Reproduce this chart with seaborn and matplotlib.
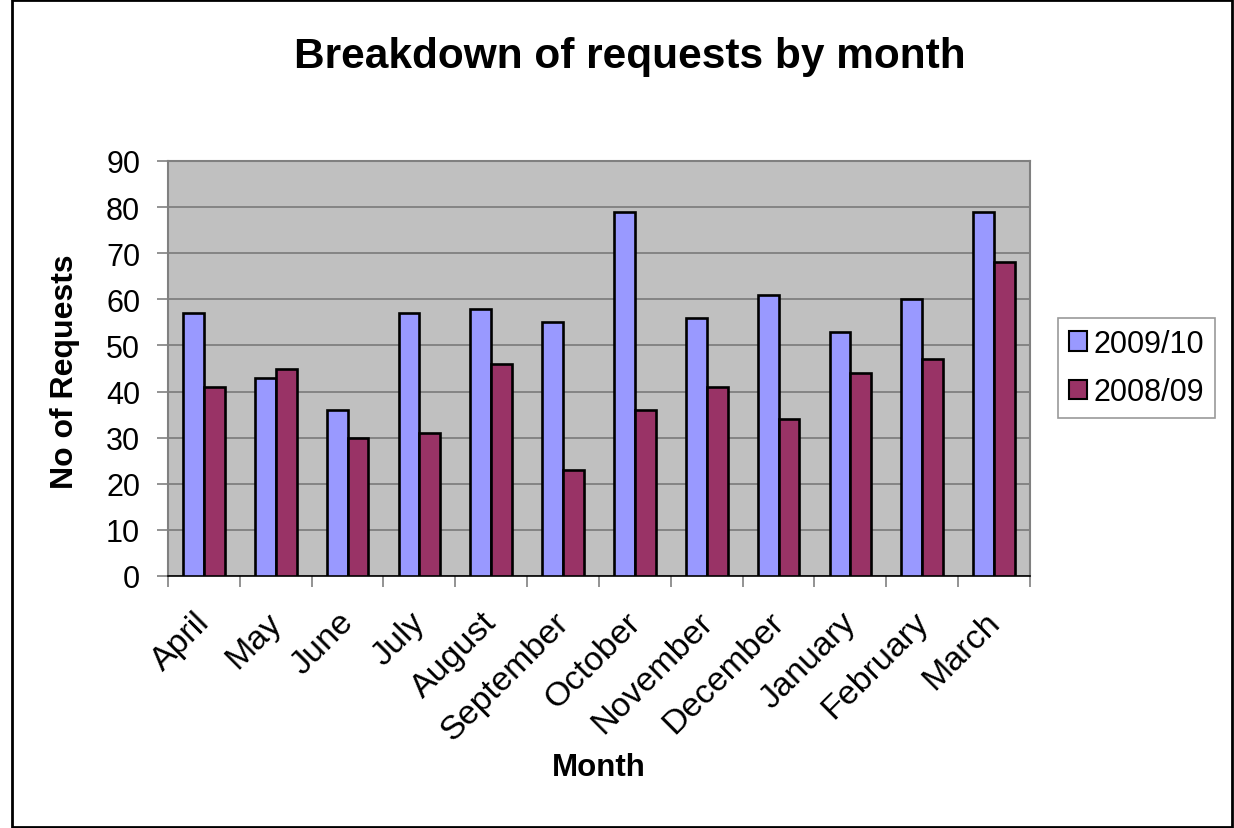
import matplotlib
matplotlib.use("Agg")
import matplotlib.pyplot as plt
from matplotlib.patches import Patch, Rectangle
from matplotlib.ticker import FixedLocator, NullFormatter
from matplotlib.transforms import ScaledTranslation
import seaborn as sns
import pandas as pd

months = ["April", "May", "June", "July", "August", "September", "October",
          "November", "December", "January", "February", "March"]
series_names = ["2009/10", "2008/09"]
requests_2009_10 = [57, 43, 36, 57, 58, 55, 79, 56, 61, 53, 60, 79]
requests_2008_09 = [41, 45, 30, 31, 46, 23, 36, 41, 34, 44, 47, 68]
y_ticks = [0, 10, 20, 30, 40, 50, 60, 70, 80, 90]

df = pd.DataFrame({
    "Month": months * 2,
    "Requests": requests_2009_10 + requests_2008_09,
    "Year": [series_names[0]] * len(months) + [series_names[1]] * len(months),
})

colors = {"2009/10": "#9999FF", "2008/09": "#993366"}

sns.set_theme(style="white")
plt.rcParams["font.family"] = ["Liberation Sans", "DejaVu Sans"]
plt.rcParams["text.color"] = "black"
plt.rcParams["axes.labelcolor"] = "black"
plt.rcParams["xtick.color"] = "black"
plt.rcParams["ytick.color"] = "black"

W, H = 1234, 829
fig = plt.figure(figsize=(W / 100, H / 100), dpi=100)
fig.patch.set_facecolor("white")

# outer chart border
fig.patches.append(Rectangle((12 / W, 1 / H), (1232 - 12) / W, (828 - 1) / H,
                             transform=fig.transFigure, fill=False,
                             edgecolor="black", linewidth=2))

left, right, top, bottom = 168, 1030, 162, 577
ax = fig.add_axes([left / W, 1 - bottom / H, (right - left) / W, (bottom - top) / H])
ax.set_facecolor("#C0C0C0")

sns.barplot(data=df, x="Month", y="Requests", hue="Year", order=months,
            hue_order=series_names, palette=colors, width=0.58, gap=0,
            edgecolor="black", linewidth=1.9, saturation=1, ax=ax, legend=False,
            zorder=3)

ax.set_xlim(-0.5, len(months) - 0.5)
ax.set_ylim(0, 90)
ax.set_yticks(y_ticks)
ax.yaxis.grid(True, color="#7A7A7A", linewidth=1.2, zorder=0)
ax.set_axisbelow(True)
for s in ax.spines.values():
    s.set_color("#808080")
    s.set_linewidth(1.5)
ax.spines["bottom"].set_color("#000000")
ax.spines["bottom"].set_linewidth(1.2)

ax.tick_params(axis="y", which="major", left=True, length=8, width=1.2,
               color="#808080", labelsize=22, pad=12, labelcolor="black")
ax.xaxis.set_minor_locator(FixedLocator([i - 0.5 for i in range(len(months) + 1)]))
ax.xaxis.set_minor_formatter(NullFormatter())
ax.tick_params(axis="x", which="minor", bottom=True, length=8, width=1.2, color="#808080")
ax.tick_params(axis="x", which="major", bottom=False, length=0, pad=26,
               labelsize=24.5, labelcolor="black")
ax.set_xticks(range(len(months)))
ax.set_xticklabels(months, rotation=45, ha="right", va="center", rotation_mode="anchor")
nudge = ScaledTranslation(1 / 100, -5 / 100, fig.dpi_scale_trans)
for lbl in ax.get_xticklabels():
    lbl.set_transform(lbl.get_transform() + nudge)

ax.set_xlabel("Month", fontsize=22.5, fontweight="bold")
ax.xaxis.label.set_va("center")
ax.xaxis.set_label_coords(0.5, -(768 - bottom) / (bottom - top))
ax.set_ylabel("No of Requests", fontsize=23, fontweight="bold")
ax.yaxis.label.set_va("center")
ax.yaxis.set_label_coords(-(left - 65) / (right - left), 0.495)

fig.text(630 / W, 1 - 57 / H, "Breakdown of requests by month", ha="center",
         va="center", fontsize=30.5, fontweight="bold")

handles = [Patch(facecolor=colors[n], edgecolor="black", linewidth=1.5, label=n)
           for n in series_names]
leg = fig.legend(handles=handles, loc="center", bbox_to_anchor=(1136.5 / W, 1 - 369 / H),
                 fontsize=22, frameon=True, fancybox=False, handlelength=0.6,
                 handleheight=0.6, handletextpad=0.2, labelspacing=0.6,
                 borderpad=0.35)
leg.get_frame().set_edgecolor("#808080")
leg.get_frame().set_linewidth(1.2)

fig.savefig("out.png", dpi=100, facecolor="white")
